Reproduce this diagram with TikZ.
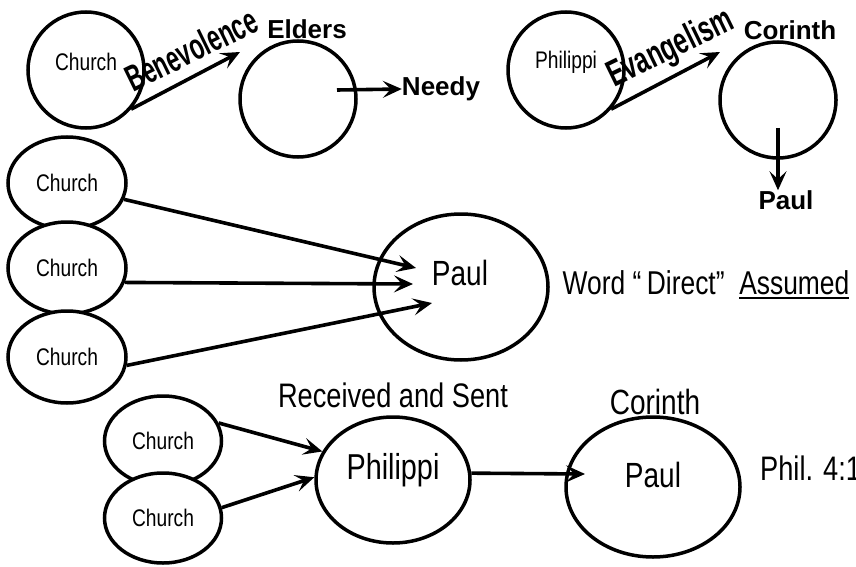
\documentclass[tikz,border=0pt]{standalone}
\usepackage{fontspec}
\setmainfont{Liberation Sans}
\newfontfamily\narrowfont{Liberation Sans}[FakeStretch=0.8]
\usetikzlibrary{arrows.meta, shapes.geometric}
\newcommand{\thickul}[1]{\setbox0\hbox{#1}\rlap{\rule[-5pt]{\wd0}{2.8pt}}\box0}

\begin{document}
\begin{tikzpicture}[x=1pt, y=-1pt,
    ring/.style={draw=black, line width=3.5pt, fill=white, circle, inner sep=0pt, minimum size=116pt},
    blob/.style={draw=black, line width=3.5pt, fill=white, ellipse, inner sep=0pt},
    arr/.style={-{Stealth[length=19pt, width=17pt, inset=8pt]}, line width=3.6pt},
    word/.style={font=\narrowfont\fontsize{#1}{#1}\selectfont, inner sep=0pt},
    tag/.style={font=\bfseries\fontsize{26}{26}\selectfont, inner sep=0pt}]
      \useasboundingbox (0,0) rectangle (856,567);
      \clip (0,0) rectangle (856,567);
      %
      \node[ring] (church0) at (86,70) {};
      \node[word=24] (churchtxt0) at (86,62) {Church};
      \node[ring] (elders) at (298,99) {};
      \node[tag] (elderstxt) at (307,29) {Elders};
      \node[tag] (needy) at (441,89) {Needy};
      \coordinate (benevtip) at (240,52);
      \coordinate (needystart) at (337,90);
      \node[font=\bfseries\fontsize{37}{37}\selectfont, inner sep=0pt, anchor=base, rotate=26, xscale=0.62] (benev) at (197,61) {Benevolence};
      \draw[arr] (church0.-41) -- (benevtip);
      \draw[arr] (needystart) -- (needy.west);
      %
      \node[ring] (phil0) at (566,70) {};
      \node[word=24] (philtxt0) at (566,62) {Philippi};
      \node[ring] (corinth0) at (778,100) {};
      \node[tag] (corinthtxt0) at (790,30) {Corinth};
      \node[tag] (paul0) at (786,200) {Paul};
      \coordinate (evangtip) at (720,52);
      \coordinate (corstart) at (778,128);
      \node[font=\bfseries\fontsize{37}{37}\selectfont, inner sep=0pt, anchor=base, rotate=26, xscale=0.66] (evang) at (675,58) {Evangelism};
      \draw[arr] (phil0.-41) -- (evangtip);
      \draw[arr] (corstart) -- (corstart |- paul0.north);
      %
      \node[blob, minimum width=118pt, minimum height=92pt] (church1) at (67,183) {};
      \node[blob, minimum width=118pt, minimum height=92pt] (church2) at (67,268) {};
      \node[blob, minimum width=118pt, minimum height=92pt] (church3) at (67,357) {};
      \node[word=24] at (67,183) {Church};
      \node[word=24] at (67,268) {Church};
      \node[word=24] at (67,357) {Church};
      \node[blob, minimum width=174pt, minimum height=146pt] (paul1) at (461,287) {};
      \node[word=35] (paultxt1) at (460,273) {Paul};
      \node[word=33] (direct) at (706,285) {Word “\,Direct”\ \ \thickul{Assumed}};
      \coordinate (tip1) at (416,268);
      \coordinate (tip2) at (413,284);
      \coordinate (tip3) at (432,303);
      \draw[arr] (church1.-16) -- (tip1);
      \draw[arr] (church2.-14) -- (tip2);
      \draw[arr] (church3.-8) -- (tip3);
      %
      \node[blob, minimum width=117pt, minimum height=90pt] (churchA) at (163,441) {};
      \node[blob, minimum width=117pt, minimum height=90pt] (churchB) at (163,518) {};
      \node[word=24] at (163,441) {Church};
      \node[word=24] at (163,518) {Church};
      \node[blob, minimum width=154pt, minimum height=126pt] (phil1) at (393,480) {};
      \node[word=36] (philtxt1) at (393,470) {Philippi};
      \node[word=34] (recv) at (393,395) {Received and Sent};
      \node[blob, minimum width=174pt, minimum height=140pt] (paul2) at (653,487) {};
      \node[word=35] (paultxt2) at (653,475) {Paul};
      \node[word=35] (corinth1) at (655,402) {Corinth};
      \node[word=34, anchor=west] (phil415) at (760,468) {Phil. 4:15};
      \coordinate (tip4) at (585,474);
      \draw[arr] (churchA.18) -- (phil1.158);
      \draw[arr] (churchB.10) -- (phil1.178);
      \draw[arr] (phil1.5) -- (tip4);
\end{tikzpicture}
\end{document}
